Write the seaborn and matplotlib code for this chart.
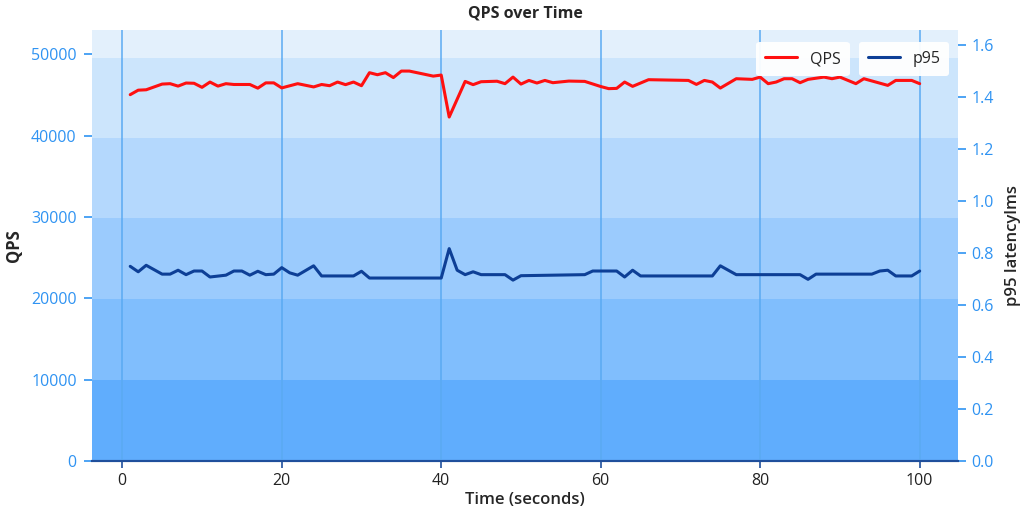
import seaborn as sns
import matplotlib.pyplot as plt
import pandas as pd

# values
qps_time = [1, 2, 3, 5, 6, 7, 8, 9, 10, 11, 12, 13, 14, 16, 17, 18, 19, 20, 22, 24,
            25, 26, 27, 28, 29, 30, 31, 32, 33, 34, 35, 36, 39, 40, 41, 43, 44, 45, 47, 48,
            49, 50, 51, 52, 53, 54, 56, 58, 60, 61, 62, 63, 64, 66, 71, 72, 73, 74, 75, 77,
            79, 80, 81, 82, 83, 84, 85, 86, 88, 89, 90, 92, 93, 96, 97, 99, 100]
qps = [45050, 45600, 45650, 46350, 46400, 46100, 46480, 46450, 45950, 46600, 46100, 46400,
       46300, 46300, 45850, 46500, 46500, 45880, 46400, 46000, 46300, 46150, 46600, 46280,
       46600, 46150, 47750, 47500, 47750, 47150, 47950, 47950, 47330, 47460, 42300, 46680,
       46280, 46640, 46700, 46400, 47210, 46350, 46800, 46480, 46800, 46520, 46720, 46680,
       46050, 45790, 45820, 46600, 46070, 46890, 46800, 46310, 46800, 46600, 45860, 47010,
       46930, 47210, 46400, 46600, 47010, 47010, 46520, 46930, 47210, 47010, 47210, 46400,
       47010, 46190, 46800, 46800, 46400]

p95_time = [1, 2, 3, 5, 6, 7, 8, 9, 10, 11, 13, 14, 15, 16, 17, 18, 19, 20, 21, 22, 24, 25,
            29, 30, 31, 40, 41, 42, 43, 44, 45, 48, 49, 50, 58, 59, 62, 63, 64, 65, 74, 75,
            77, 85, 86, 87, 94, 95, 96, 97, 99, 100]
p95 = [0.748, 0.727, 0.752, 0.718, 0.718, 0.733, 0.716, 0.730, 0.730, 0.707, 0.714, 0.730,
       0.730, 0.714, 0.729, 0.716, 0.718, 0.743, 0.723, 0.714, 0.750, 0.711, 0.711, 0.729,
       0.703, 0.703, 0.816, 0.733, 0.716, 0.727, 0.716, 0.716, 0.695, 0.712, 0.716, 0.730,
       0.730, 0.707, 0.733, 0.711, 0.711, 0.750, 0.716, 0.716, 0.698, 0.718, 0.718, 0.730,
       0.733, 0.711, 0.711, 0.730]

band_edges = [0, 9950, 19900, 29850, 39700, 49600, 53000]
band_colors = ['#60adfd', '#80befd', '#9bcbfd', '#b4d8fd', '#cce5fc', '#e3f0fc']

sns.set_style("white")
plt.rcParams['font.family'] = ['Open Sans', 'DejaVu Sans']

tick_blue = '#2f93f2'
spine_blue = '#1f4f9c'

fig = plt.figure(figsize=(10.24, 5.12), dpi=100)
ax = fig.add_axes([0.0898, 0.0996, 0.8457, 0.8418])

for lo, hi, c in zip(band_edges[:-1], band_edges[1:], band_colors):
    ax.axhspan(lo, hi, color=c, lw=0, zorder=0)

qps_df = pd.DataFrame({"time": qps_time, "qps": qps})
p95_df = pd.DataFrame({"time": p95_time, "p95": p95})

sns.lineplot(data=qps_df, x="time", y="qps", ax=ax, color='#ff1010', lw=2.2,
             label='QPS', zorder=3)
ax.set_xlim(-3.8, 104.8)
ax.set_ylim(0, 53000)
ax.set_xticks([0, 20, 40, 60, 80, 100])
ax.set_yticks([0, 10000, 20000, 30000, 40000, 50000])
ax.xaxis.grid(True, color='#5aaaf2', lw=1.1, zorder=1)
ax.yaxis.grid(False)
ax.set_axisbelow(False)

ax2 = ax.twinx()
sns.lineplot(data=p95_df, x="time", y="p95", ax=ax2, color='#0d3f96', lw=2.2,
             label='p95', zorder=3)
ax2.set_ylim(0, 1.656)
ax2.set_yticks([0.0, 0.2, 0.4, 0.6, 0.8, 1.0, 1.2, 1.4, 1.6])
ax2.grid(False)

for a in (ax, ax2):
    for s in ('top', 'left', 'right'):
        a.spines[s].set_visible(False)
    a.spines['bottom'].set_color(spine_blue)
    a.spines['bottom'].set_linewidth(1.5)

ax.tick_params(axis='y', colors=tick_blue, labelsize=11.5, length=6, width=1.2,
               left=True, pad=5)
ax.tick_params(axis='x', color=spine_blue, labelcolor='#222222', labelsize=11.5,
               length=5, width=1.2, bottom=True)
ax2.tick_params(axis='y', colors=tick_blue, labelsize=11.5, length=6, width=1.2,
                right=True)

ax.set_xlabel('Time (seconds)', fontsize=12, fontweight='semibold', labelpad=2)
ax.set_ylabel('QPS', fontsize=12, fontweight='bold', labelpad=6)
ax2.set_ylabel('p95 latencylms', fontsize=12, fontweight='semibold', labelpad=8)
ax.set_title('QPS over Time', fontsize=11.5, fontweight='bold', pad=9)

leg1 = ax.legend(loc='upper right', bbox_to_anchor=(0.884, 0.99), fontsize=11.5,
                 frameon=True, facecolor='white', edgecolor='none', framealpha=0.95,
                 handlelength=2.0, borderpad=0.55)
leg2 = ax2.legend(loc='upper right', bbox_to_anchor=(0.999, 0.99), fontsize=11.5,
                  frameon=True, facecolor='white', edgecolor='none', framealpha=0.95,
                  handlelength=2.0, borderpad=0.55)
leg1.set_zorder(10)

plt.savefig('out.png', dpi=100)
